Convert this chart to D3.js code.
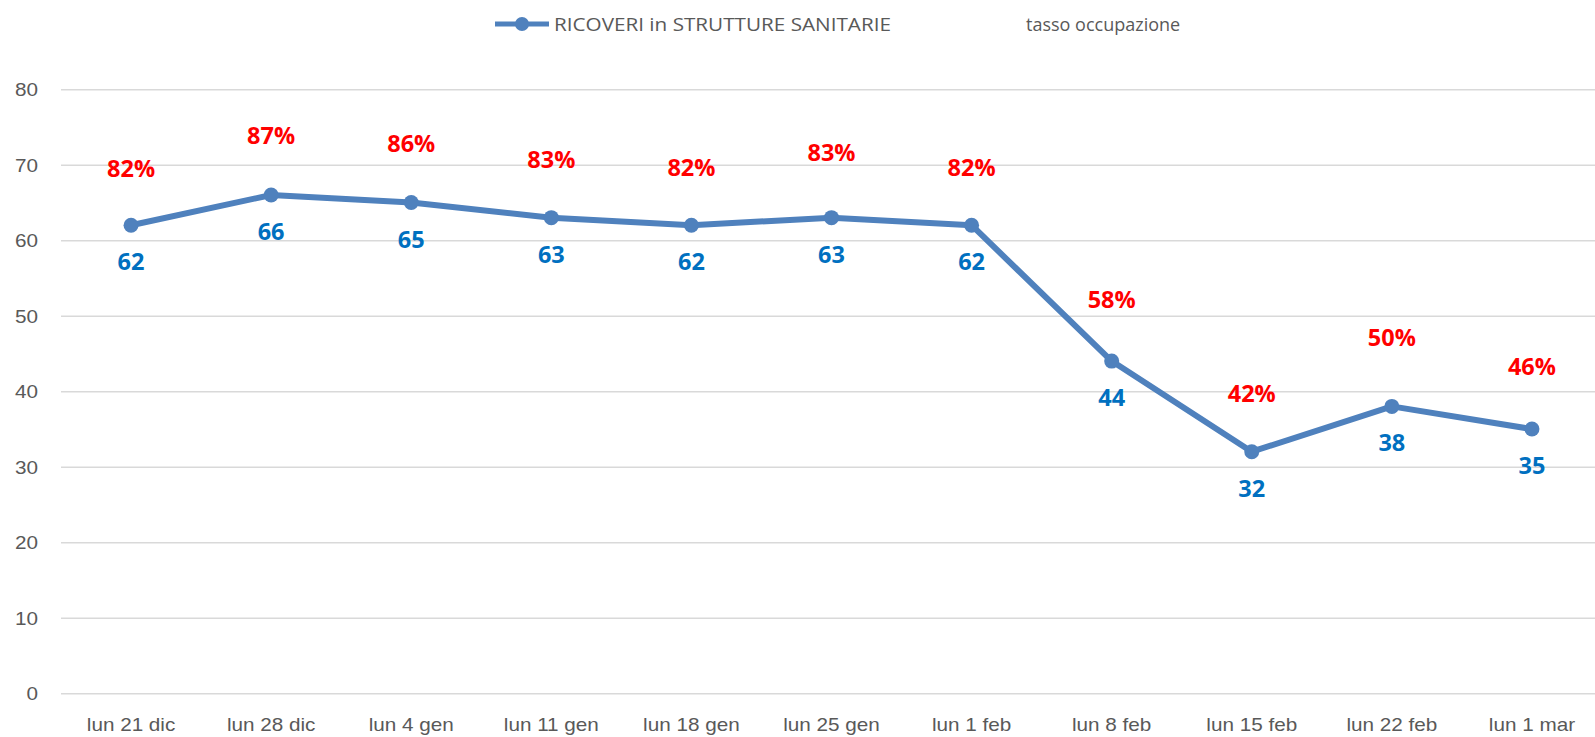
<!DOCTYPE html>
<html lang="it">
<head>
<meta charset="UTF-8">
<title>Ricoveri in strutture sanitarie</title>
<script src="https://cdnjs.cloudflare.com/ajax/libs/d3/7.8.5/d3.min.js"></script>
<style>
  html, body { margin: 0; padding: 0; background: #fff; }
  svg { display: block; font-family: "Open Sans", sans-serif; }
</style>
</head>
<body>
<svg id="chart" width="1595" height="737"></svg>
<script>
    // data
    const settimane = ["lun 21 dic", "lun 28 dic", "lun 4 gen", "lun 11 gen", "lun 18 gen", "lun 25 gen",
                       "lun 1 feb", "lun 8 feb", "lun 15 feb", "lun 22 feb", "lun 1 mar"];
    const ricoveri = [62, 66, 65, 63, 62, 63, 62, 44, 32, 38, 35];
    // tasso occupazione: hidden series, only its labels are shown
    const tassoOccupazione = [82, 87, 86, 83, 82, 83, 82, 58, 42, 50, 46];
    const tassoSerie = [64.8, 69.1, 68.1, 65.9, 64.9, 66.8, 64.9, 47.4, 34.9, 42.3, 38.5];
    const yTicks = [0, 10, 20, 30, 40, 50, 60, 70, 80];
    const legendNames = ["RICOVERI in STRUTTURE SANITARIE", "tasso occupazione"];

    const W = 1595, H = 737;
    const SX = 1.15; // the source text is a bit stretched horizontally
    const lineColor = "#4F81BD";
    const axisColor = "#595959";
    const labelSize = 23.5;

    const svg = d3.select("#chart");

    const x = d3.scaleBand().domain(settimane).range([61, 1602]).padding(0);
    const y = d3.scaleLinear().domain([0, 80]).range([693.3, 89.3]);
    const cx = d => x(d) + x.bandwidth() / 2;

    // gridlines
    const grid = svg.append("g")
        .attr("transform", "translate(61,0)")
        .call(d3.axisLeft(y).tickValues(yTicks).tickSize(-(W - 61)).tickFormat(""));
    grid.select(".domain").remove();
    grid.selectAll("line").attr("stroke", "#D9D9D9").attr("stroke-width", 1.6);

    // y axis labels
    const yAxis = svg.append("g")
        .attr("transform", "translate(38,0)")
        .call(d3.axisLeft(y).tickValues(yTicks).tickSize(0).tickPadding(0));
    yAxis.select(".domain").remove();
    yAxis.selectAll("text")
        .attr("x", 0).attr("dy", 6.5)
        .attr("transform", `scale(${SX},1)`)
        .attr("fill", axisColor)
        .style("font-size", "18px");

    // x axis labels
    const xAxis = svg.append("g")
        .attr("transform", "translate(0,731)")
        .call(d3.axisBottom(x).tickSize(0).tickPadding(0));
    xAxis.select(".domain").remove();
    xAxis.selectAll("text")
        .attr("y", 0).attr("dy", 0)
        .attr("transform", `scale(${SX},1)`)
        .attr("fill", axisColor)
        .style("font-size", "18px");

    // line + markers
    const line = d3.line()
        .x((d, i) => cx(settimane[i]))
        .y(d => y(d));

    svg.append("path")
        .datum(ricoveri)
        .attr("d", line)
        .attr("fill", "none")
        .attr("stroke", lineColor)
        .attr("stroke-width", 6)
        .attr("stroke-linejoin", "round");

    svg.append("g").selectAll("circle")
        .data(ricoveri)
        .enter()
        .append("circle")
        .attr("cx", (d, i) => cx(settimane[i]))
        .attr("cy", d => y(d))
        .attr("r", 7.5)
        .attr("fill", lineColor);

    // value labels below the points
    svg.append("g").selectAll("text")
        .data(ricoveri)
        .enter()
        .append("text")
        .attr("x", (d, i) => cx(settimane[i]))
        .attr("y", d => y(d) + 45)
        .attr("text-anchor", "middle")
        .attr("fill", "#0070C0")
        .style("font-size", labelSize + "px")
        .style("font-weight", "bold")
        .text(d => d);

    // occupancy labels above the hidden series
    svg.append("g").selectAll("text")
        .data(tassoSerie)
        .enter()
        .append("text")
        .attr("x", (d, i) => cx(settimane[i]))
        .attr("y", d => y(d) - 27.5)
        .attr("text-anchor", "middle")
        .attr("fill", "#FF0000")
        .style("font-size", labelSize + "px")
        .style("font-weight", "bold")
        .text((d, i) => tassoOccupazione[i] + "%");

    // legend
    const legend = svg.append("g").attr("transform", "translate(0,24)");
    legend.append("line")
        .attr("x1", 495).attr("x2", 549)
        .attr("stroke", lineColor).attr("stroke-width", 5);
    legend.append("circle")
        .attr("cx", 522).attr("r", 7).attr("fill", lineColor);
    legend.selectAll("text.name")
        .data(legendNames)
        .enter()
        .append("text")
        .attr("class", "name")
        .attr("transform", (d, i) => i === 0
            ? `translate(554,6.5) scale(${SX},1)`
            : "translate(1026,6.5)")
        .attr("fill", axisColor)
        .style("font-size", "18px")
        .text(d => d);
</script>
</body>
</html>
